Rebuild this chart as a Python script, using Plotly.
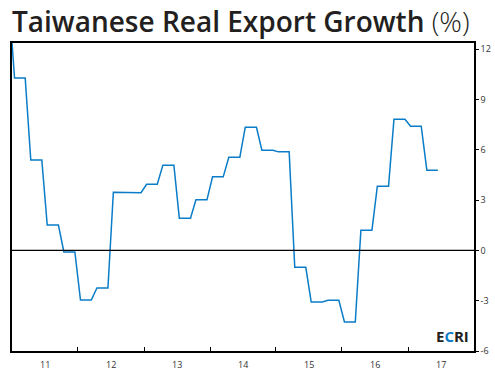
import plotly.graph_objects as go

# Quarterly values (each held for the 3 months of the quarter)
quarters = ["2010Q4",
            "2011Q1", "2011Q2", "2011Q3", "2011Q4",
            "2012Q1", "2012Q2", "2012Q3", "2012Q4",
            "2013Q1", "2013Q2", "2013Q3", "2013Q4",
            "2014Q1", "2014Q2", "2014Q3", "2014Q4",
            "2015Q1", "2015Q2", "2015Q3", "2015Q4",
            "2016Q1", "2016Q2", "2016Q3", "2016Q4",
            "2017Q1", "2017Q2"]
growth = [15.0,
          10.27, 5.39, 1.51, -0.10,
          -2.96, -2.24, 3.47, 3.44,
          3.94, 5.08, 1.92, 3.01,
          4.38, 5.55, 7.34, 5.97,
          5.87, -1.01, -3.08, -2.98,
          -4.27, 1.20, 3.82, 7.82,
          7.40, 4.78]

year_labels = ["11", "12", "13", "14", "15", "16", "17"]
y_ticks = [-6, -3, 0, 3, 6, 9, 12]

dates, vals = [], []
for q, v in zip(quarters, growth):
    yr = int(q[:4]); qn = int(q[-1])
    for m in range(3):
        mo = (qn - 1) * 3 + m + 1
        dates.append(f"{yr}-{mo:02d}-15")
        vals.append(v)

fig = go.Figure()
fig.add_trace(go.Scatter(x=dates, y=vals, mode="lines",
                         line=dict(color="#0a7cc8", width=1.5),
                         hoverinfo="x+y", showlegend=False))

fig.add_hline(y=0, line=dict(color="black", width=1.3), layer="above")

year_starts = [f"{2011 + i}-01-01" for i in range(len(year_labels))]
year_mids = [f"{2011 + i}-07-02" for i in range(len(year_labels))]

fig.update_layout(
    width=495, height=375,
    margin=dict(l=12, r=21, t=43, b=24, autoexpand=False),
    paper_bgcolor="white", plot_bgcolor="white",
    font=dict(family="Open Sans", color="#333333", size=9),
    xaxis=dict(
        type="date",
        range=["2011-01-01", "2018-01-01"],
        tickmode="array",
        tickvals=year_starts[1:],
        ticktext=["" for _ in year_starts[1:]],
        ticks="inside", ticklen=4, tickcolor="black", tickwidth=1,
        showgrid=False, zeroline=False,
        showline=True, linecolor="black", linewidth=1.5, mirror=True,
        fixedrange=True,
    ),
    yaxis=dict(
        side="right",
        range=[-6, 12.36],
        tickvals=y_ticks,
        ticktext=[str(t) for t in y_ticks],
        ticks="outside", ticklen=3, tickcolor="black", tickwidth=1,
        showgrid=False, zeroline=False,
        showline=True, linecolor="black", linewidth=1.5, mirror=True,
        tickfont=dict(size=9, color="#333333"),
        fixedrange=True,
    ),
)

# Year labels centred in each year
for d, lab in zip(year_mids, year_labels):
    fig.add_annotation(x=d, y=0, xref="x", yref="paper", text=lab,
                       showarrow=False, yanchor="top", yshift=-5,
                       font=dict(size=9, color="#333333"))

# Title
fig.add_annotation(
    x=0, y=1.0, xref="paper", yref="paper", xanchor="left", yanchor="bottom",
    xshift=-2, yshift=1,
    text="Taiwanese Real Export Growth <span style='font-weight:300'>(%)</span>",
    showarrow=False,
    font=dict(family="Open Sans", size=28, color="#231f20", weight=600),
)

# ECRI logo
fig.add_annotation(
    x=1, y=0, xref="paper", yref="paper", xanchor="right", yanchor="bottom",
    xshift=-3, yshift=3,
    text="<b>E<span style='color:#0a7cc8'>C</span>RI</b>",
    showarrow=False,
    font=dict(family="Open Sans", size=15, color="#231f20"),
)

fig.write_html("out.html",
               config={"displayModeBar": False},
               post_script="document.body.style.margin='0';document.body.style.padding='0';")
